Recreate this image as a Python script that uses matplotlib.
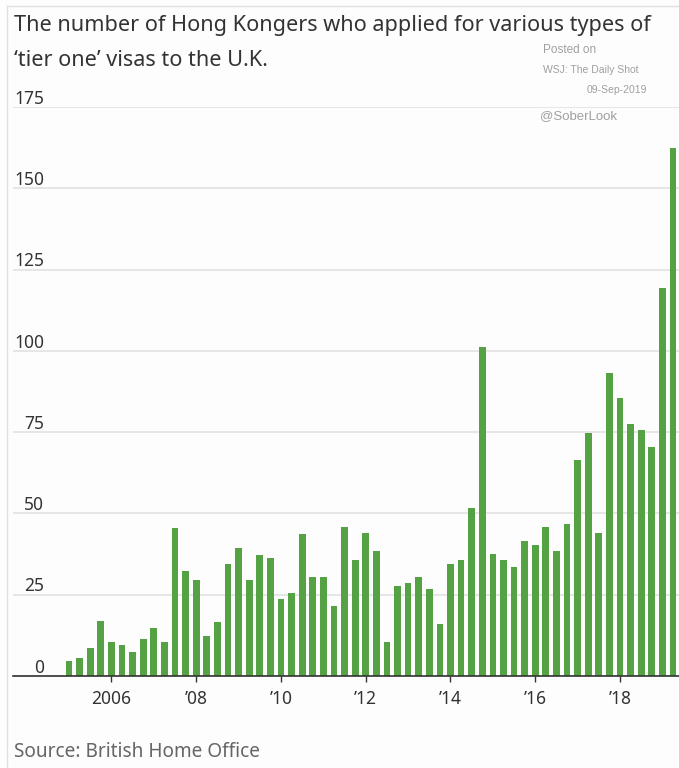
import matplotlib.pyplot as plt
from matplotlib.lines import Line2D

# quarterly applications, 2005 Q1 - 2019 Q2
years = list(range(2005, 2020))
values = [4.5, 5.5, 8.5, 16.8,
          10.4, 9.4, 7.4, 11.4,
          14.8, 10.4, 45.6, 32.4,
          29.4, 12.3, 16.7, 34.5,
          39.3, 29.4, 37.3, 36.3,
          23.6, 25.6, 43.7, 30.4,
          30.4, 21.6, 45.8, 35.6,
          43.9, 38.5, 10.6, 27.7,
          28.6, 30.6, 26.7, 15.9,
          34.6, 35.6, 51.6, 101.1,
          37.4, 35.6, 33.5, 41.4,
          40.4, 45.8, 38.5, 46.8,
          66.4, 74.7, 43.9, 93.2,
          85.4, 77.5, 75.7, 70.3,
          119.3, 162.4]
quarters = [y + q / 4 for y in years for q in range(4)][:len(values)]

tick_years = [2006, 2008, 2010, 2012, 2014, 2016, 2018]
tick_labels = ['2006', "\u201908", "\u201910", "\u201912", "\u201914", "\u201916", "\u201918"]
y_ticks = [0, 25, 50, 75, 100, 125, 150, 175]

plt.rcParams['font.family'] = ['Noto Sans', 'DejaVu Sans']

fig = plt.figure(figsize=(6.79, 7.68), dpi=100)
fig.patch.set_facecolor('#fdfdfd')
ax = fig.add_axes([13 / 679, 1 - 676 / 768, 666 / 679, 569 / 768])
ax.set_facecolor('#fdfdfd')

ax.bar(quarters, values, width=0.16, color='#54a244', zorder=3)

ax.set_xlim(2003.68, 2019.39)
ax.set_ylim(0, 175)

# gridlines with labels sitting above them
ax.set_yticks(y_ticks)
ax.set_yticklabels([])
ax.tick_params(axis='y', length=0)
ax.grid(axis='y', color='#e2e2e2', linewidth=1.2, zorder=0)
for v in y_ticks:
    ax.annotate(str(v), xy=(0, v), xycoords=('axes fraction', 'data'),
                xytext=(22.3, -0.5), textcoords='offset points',
                ha='right', va='bottom', fontsize=12.5, color='#333333')

ax.set_xticks(tick_years)
ax.set_xticklabels(tick_labels, fontsize=12.5, color='#333333')
ax.tick_params(axis='x', length=4, width=1, color='#333333', pad=6)

for s in ['top', 'right', 'left']:
    ax.spines[s].set_visible(False)
ax.spines['bottom'].set_color('#333333')
ax.spines['bottom'].set_linewidth(1.2)
ax.spines['bottom'].set_zorder(4)

# outer frame lines
fig.add_artist(Line2D([7 / 679, 7 / 679], [0, 1 - 6 / 768], color='#e0e0e0', lw=1))
fig.add_artist(Line2D([7 / 679, 1], [1 - 6 / 768, 1 - 6 / 768], color='#e0e0e0', lw=1))

fig.text(14 / 679, 1 - 25 / 768,
         'The number of Hong Kongers who applied for various types of',
         fontsize=15.6, color='#333333', va='center', ha='left')
fig.text(14 / 679, 1 - 60 / 768, "\u2018tier one\u2019 visas to the U.K.",
         fontsize=15.6, color='#333333', va='center', ha='left')

fig.text(543 / 679, 1 - 50 / 768, 'Posted on', fontsize=8.5,
         color='#a0a0a0', va='center', ha='left', family='Liberation Sans')
fig.text(543 / 679, 1 - 70 / 768, 'WSJ: The Daily Shot', fontsize=7.5,
         color='#a0a0a0', va='center', ha='left', family='Liberation Sans')
fig.text(647 / 679, 1 - 90 / 768, '09-Sep-2019', fontsize=7.5,
         color='#a0a0a0', va='center', ha='right', family='Liberation Sans')
fig.text(540 / 679, 1 - 116 / 768, '@SoberLook', fontsize=9.5,
         color='#a0a0a0', va='center', ha='left', family='Liberation Sans')

fig.text(14 / 679, 1 - 752 / 768, 'Source: British Home Office',
         fontsize=13.7, color='#666666', va='center', ha='left')

fig.savefig('out.png', dpi=100, facecolor=fig.get_facecolor())
